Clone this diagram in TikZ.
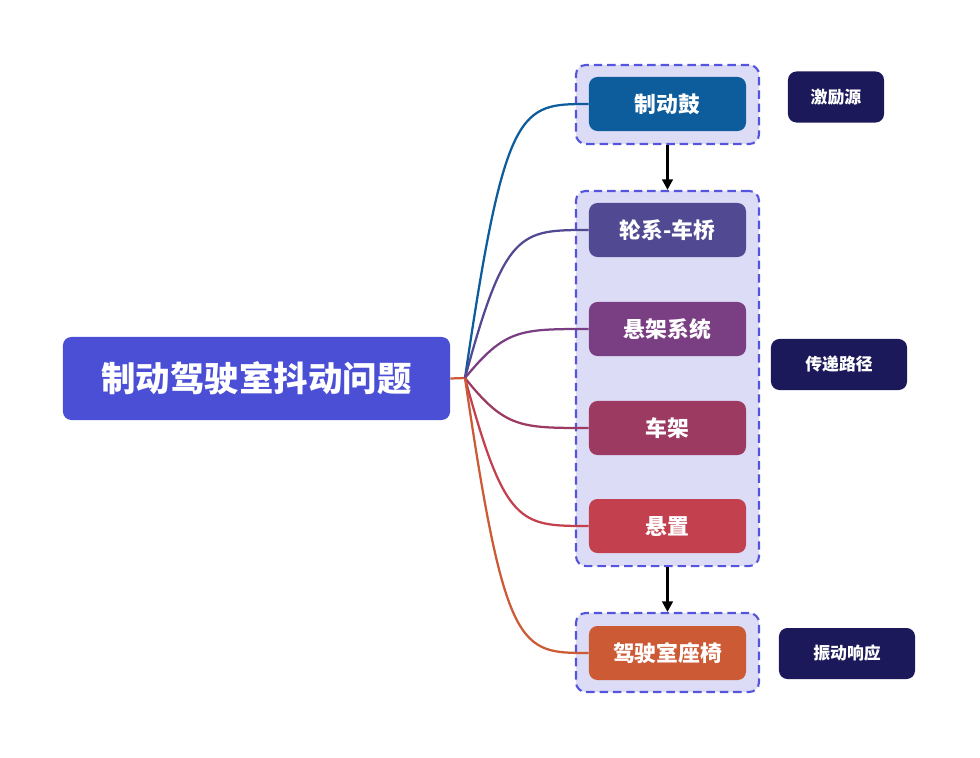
\documentclass[tikz,border=0pt]{standalone}
\usepackage{fontspec}
\setmainfont{Noto Sans CJK SC}
\usetikzlibrary{arrows.meta, positioning}
\definecolor{rootblue}{HTML}{4A4FD6}
\definecolor{drumblue}{HTML}{0D5C9C}
\definecolor{axleviolet}{HTML}{514A93}
\definecolor{suspplum}{HTML}{7A3F82}
\definecolor{framewine}{HTML}{9C3A62}
\definecolor{mountred}{HTML}{C3404F}
\definecolor{seatorange}{HTML}{CC5A35}
\definecolor{tagnavy}{HTML}{1B1959}
\definecolor{groupfill}{HTML}{DCDCF7}
\definecolor{groupline}{HTML}{5454DD}
\tikzset{
  rootbox/.style={fill=rootblue, rounded corners=6pt, minimum width=9.675cm,
    minimum height=2.075cm, text=white, font=\bfseries\fontsize{24.5}{28}\selectfont},
  partbox/.style={fill=#1, rounded corners=6pt, minimum width=3.925cm,
    minimum height=1.35cm, text=white, font=\bfseries\fontsize{15.5}{18}\selectfont},
  groupbox/.style={draw=groupline, fill=groupfill, line width=1.5pt,
    dash pattern=on 6pt off 3.5pt, rounded corners=7pt, minimum width=4.575cm},
  tagbox/.style={fill=tagnavy, rounded corners=6pt, minimum height=1.275cm,
    text=white, font=\bfseries\fontsize{12}{14}\selectfont},
  branch/.style={line width=1.6pt},
  flow/.style={-{Triangle[length=7.5pt,width=7.5pt]}, line width=1.8pt}
}

\begin{document}
\begin{tikzpicture}[x=0.025cm, y=-0.025cm]
  \useasboundingbox (0,0) rectangle (980,757);
  % dashed groups
  \node[groupbox, minimum height=1.975cm] (source) at (667.5,104.5) {};
  \node[groupbox, minimum height=9.375cm] (path) at (667.5,378.5) {};
  \node[groupbox, minimum height=1.975cm] (response) at (667.5,652.5) {};
  % flow between groups
  \draw[flow] (source.south) -- (path.north);
  \draw[flow] (path.south) -- (response.north);
  % root and hub
  \node[rootbox] (root) at (256.5,378.5) {制动驾驶室抖动问题};
  \coordinate (hub) at (465,378);
  % parts
  \node[partbox=drumblue] (drum) at (667.5,104) {制动鼓};
  \node[partbox=axleviolet] (axle) at (667.5,230) {轮系-车桥};
  \node[partbox=suspplum] (susp) at (667.5,329) {悬架系统};
  \node[partbox=framewine] (frame) at (667.5,428) {车架};
  \node[partbox=mountred] (mount) at (667.5,526) {悬置};
  \node[partbox=seatorange] (seat) at (667.5,653) {驾驶室座椅};
  % branches
  \draw[branch, seatorange] (root.east) -- (hub);
  \foreach \n/\c/\y in {drum/drumblue/104, axle/axleviolet/230, susp/suspplum/329,
      frame/framewine/428, mount/mountred/526, seat/seatorange/653}
    \draw[branch, \c] (hub) .. controls (505,\y) and (520,\y) .. (\n.west);
  % stage tags
  \node[tagbox, minimum width=2.4cm] (tagsource) at (836,97) {激励源};
  \node[tagbox, minimum width=3.4cm] (tagpath) at (839,364.5) {传递路径};
  \node[tagbox, minimum width=3.4cm] (tagresponse) at (847,653.5) {振动响应};
\end{tikzpicture}
\end{document}
